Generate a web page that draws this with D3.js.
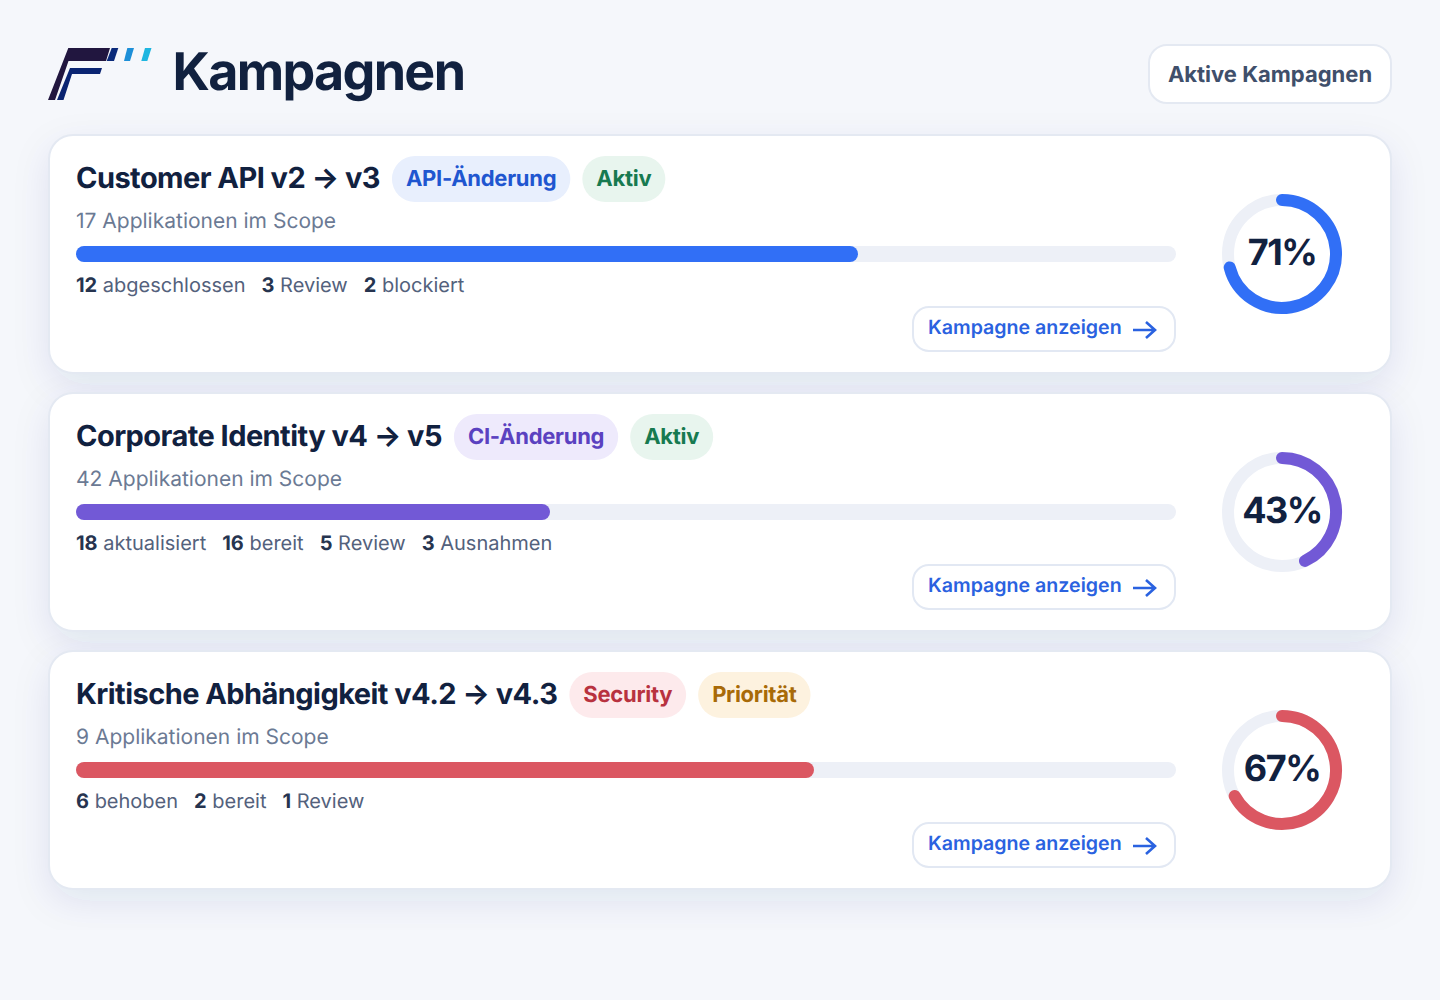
<!DOCTYPE html>
<html><head><meta charset="utf-8">
<script src="https://cdn.jsdelivr.net/npm/d3@7"></script>
<style>html,body{margin:0;padding:0;background:#f5f7fb}svg{display:block}text{font-family:Inter,sans-serif;text-rendering:geometricPrecision}</style>
</head><body><div id="c"></div>
<script>
const titles=["Customer API v2 → v3","Corporate Identity v4 → v5","Kritische Abhängigkeit v4.2 → v4.3"];
const scopes=["17 Applikationen im Scope","42 Applikationen im Scope","9 Applikationen im Scope"];
const percents=[71,43,67];
const barColors=["#316ff6","#7259d6","#db5762"];
const tags=[
 [{t:"API-Änderung",bg:"#e8effd",fg:"#1f56d0"},{t:"Aktiv",bg:"#e8f5ee",fg:"#177a50"}],
 [{t:"CI-Änderung",bg:"#eeeafc",fg:"#5a41c0"},{t:"Aktiv",bg:"#e8f5ee",fg:"#177a50"}],
 [{t:"Security",bg:"#fdeaec",fg:"#b8323f"},{t:"Priorität",bg:"#fdf2df",fg:"#a86a08"}]];
const stats=[
 [[12,"abgeschlossen"],[3,"Review"],[2,"blockiert"]],
 [[18,"aktualisiert"],[16,"bereit"],[5,"Review"],[3,"Ausnahmen"]],
 [[6,"behoben"],[2,"bereit"],[1,"Review"]]];
const heading="Kampagnen", filterLabel="Aktive Kampagnen", linkLabel="Kampagne anzeigen";

const svg=d3.select("#c").append("svg").attr("width",1440).attr("height",1000);
const defs=svg.append("defs");
const f=defs.append("filter").attr("id","sh").attr("filterUnits","userSpaceOnUse").attr("x",-100).attr("y",0).attr("width",1640).attr("height",1000);
f.append("feDropShadow").attr("dx",0).attr("dy",12).attr("stdDeviation",18).attr("flood-color","#24407a").attr("flood-opacity",0.095);
defs.append("clipPath").attr("id","clip").append("rect").attr("width",1440).attr("height",930);
svg.append("rect").attr("width",1440).attr("height",1000).attr("fill","#f5f7fb");

// logo
const logo=svg.append("g");
[["M68.3 48H110L106 61H68.5L55 100H48Z","#21163f"],["M70 68H102L100 74H72L63.5 100H57Z","#0a2472"],
 ["M111.7 48H118.3L114 61H106.7Z","#0a2a7a"],["M127.3 48H134L130 61H124Z","#1d8fd8"],["M145 48H151.5L147.3 61H141.3Z","#1eb6e0"]]
 .forEach(d=>logo.append("path").attr("d",d[0]).attr("fill",d[1]));

svg.append("text").attr("x",172.5).attr("y",90).attr("font-size",52).attr("font-weight",700).attr("letter-spacing",-1.7).attr("fill","#11213f").text(heading);
svg.append("rect").attr("x",1149).attr("y",45).attr("width",242).attr("height",58).attr("rx",18).attr("fill","#fff").attr("stroke","#e4e9f2").attr("stroke-width",2);
svg.append("text").attr("x",1270).attr("y",82).attr("text-anchor","middle").attr("font-size",22).attr("font-weight",700).attr("fill","#3f4f6b").text(filterLabel);

const xBar=d3.scaleLinear().domain([0,100]).range([0,1100]);
const shadows=svg.append("g").attr("clip-path","url(#clip)");

titles.forEach((title,i)=>{
 const top=134+258*i;
 shadows.append("rect").attr("x",49).attr("y",top+1).attr("width",1342).attr("height",238).attr("rx",24).attr("fill","#fff").attr("filter","url(#sh)");
});
titles.forEach((title,i)=>{
 const top=134+258*i;
 const g=svg.append("g").attr("transform",`translate(0,${top})`);
 g.append("rect").attr("x",49).attr("y",1).attr("width",1342).attr("height",238).attr("rx",24).attr("fill","#fff").attr("stroke","#e4e9f2").attr("stroke-width",2);
 const tt=g.append("text").attr("x",76).attr("y",54).attr("font-size",29).attr("font-weight",700).attr("letter-spacing",-0.55).attr("fill","#11213f").text(title);
 let x=76+tt.node().getComputedTextLength()+12;
 tags[i].forEach(tag=>{
  const tg=g.append("g");
  const lab=tg.append("text").attr("x",x+14).attr("y",52).attr("font-size",22).attr("font-weight",700).attr("letter-spacing",-0.28).attr("fill",tag.fg).text(tag.t);
  const w=lab.node().getComputedTextLength()+28;
  tg.insert("rect","text").attr("x",x).attr("y",22).attr("width",w).attr("height",46).attr("rx",23).attr("fill",tag.bg);
  x+=w+12;
 });
 g.append("text").attr("x",76).attr("y",94).attr("font-size",21).attr("fill","#6b7a94").text(scopes[i]);
 g.append("rect").attr("x",76).attr("y",112).attr("width",xBar(100)).attr("height",16).attr("rx",8).attr("fill","#edf0f7");
 g.append("rect").attr("x",76).attr("y",112).attr("width",xBar(percents[i])+1).attr("height",16).attr("rx",8).attr("fill",barColors[i]);
 let sx=76;
 stats[i].forEach(s=>{
  const t=g.append("text").attr("x",sx).attr("y",158).attr("font-size",20).attr("fill","#53617c");
  t.append("tspan").attr("font-weight",700).attr("fill","#26344f").text(s[0]);
  t.append("tspan").text(" "+s[1]);
  sx+=t.node().getComputedTextLength()+16;
 });
 g.append("rect").attr("x",913).attr("y",173).attr("width",262).attr("height",44).attr("rx",16).attr("fill","#fff").attr("stroke","#e2e8f3").attr("stroke-width",2);
 g.append("text").attr("x",928).attr("y",200).attr("font-size",19.6).attr("font-weight",600).attr("fill","#2a62e0").text(linkLabel);
 g.append("path").attr("d","M1133 196H1155M1146 188L1155 196L1146 204").attr("fill","none").attr("stroke","#2a62e0").attr("stroke-width",2.6);
 const d=g.append("g").attr("transform","translate(1282,120)");
 d.append("circle").attr("r",54).attr("fill","none").attr("stroke","#edf0f7").attr("stroke-width",12);
 const p=d3.path();
 p.arc(0,0,54,-Math.PI/2,-Math.PI/2+2*Math.PI*percents[i]/100);
 d.append("path").attr("d",p.toString()).attr("fill","none").attr("stroke",barColors[i]).attr("stroke-width",12).attr("stroke-linecap","round");
 d.append("text").attr("y",11).attr("text-anchor","middle").attr("font-size",36).attr("font-weight",700).attr("letter-spacing",-1.5).attr("fill","#11213f").text(percents[i]+"%");
});
</script></body></html>
